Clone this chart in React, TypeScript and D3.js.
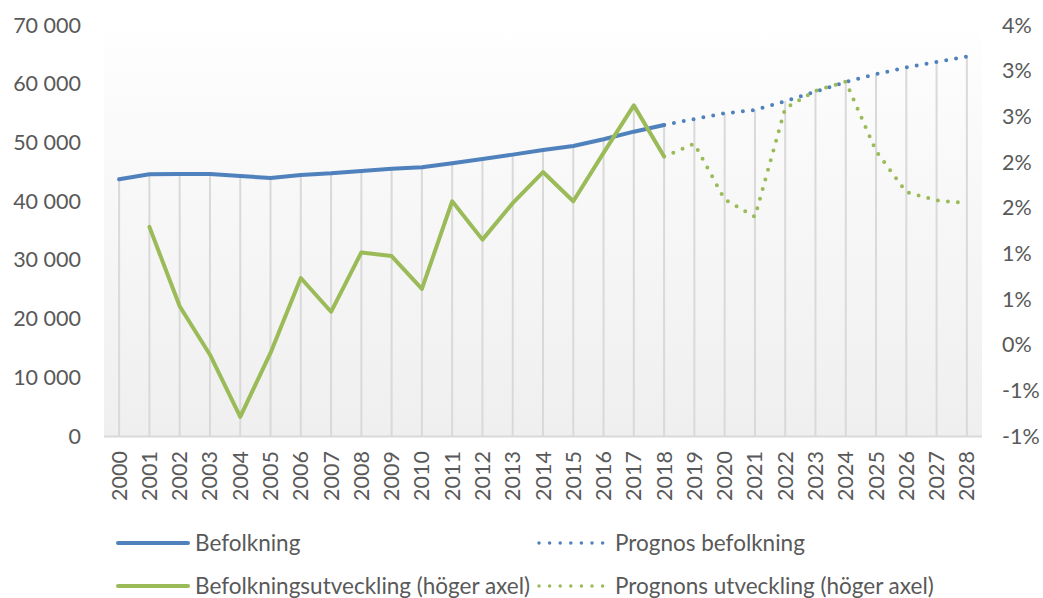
import React from 'react';
import * as d3 from 'd3';

const years = [2000, 2001, 2002, 2003, 2004, 2005, 2006, 2007, 2008, 2009, 2010, 2011, 2012, 2013, 2014, 2015, 2016, 2017, 2018, 2019, 2020, 2021, 2022, 2023, 2024, 2025, 2026, 2027, 2028];

// Befolkning 2000-2018 (left axis)
const befolkningYears = [2000, 2001, 2002, 2003, 2004, 2005, 2006, 2007, 2008, 2009, 2010, 2011, 2012, 2013, 2014, 2015, 2016, 2017, 2018];
const befolkning = [43720, 44570, 44630, 44630, 44290, 43940, 44460, 44740, 45140, 45530, 45760, 46450, 47180, 47920, 48710, 49400, 50540, 51830, 52970];

// Prognos befolkning 2018-2028 (left axis)
const prognosYears = [2018, 2019, 2020, 2021, 2022, 2023, 2024, 2025, 2026, 2027, 2028];
const prognosBefolkning = [52970, 53990, 54960, 55530, 57010, 58650, 60300, 61630, 62770, 63700, 64620];

// Befolkningsutveckling 2001-2018 (right axis, share)
const utvecklingYears = [2001, 2002, 2003, 2004, 2005, 2006, 2007, 2008, 2009, 2010, 2011, 2012, 2013, 2014, 2015, 2016, 2017, 2018];
const utveckling = [0.0129, 0.0042, -0.0011, -0.0079, -0.0009, 0.0073, 0.0036, 0.0101, 0.0097, 0.0061, 0.0157, 0.0115, 0.0155, 0.0189, 0.0157, 0.0210, 0.0262, 0.0206];

// Prognons utveckling 2018-2028 (right axis, share)
const prognosUtveckling = [0.0206, 0.0220, 0.0159, 0.0140, 0.0259, 0.0278, 0.0288, 0.0212, 0.0167, 0.0158, 0.0155];

const leftTicks = [0, 10000, 20000, 30000, 40000, 50000, 60000, 70000];
const rightTicks = [-0.01, -0.005, 0, 0.005, 0.01, 0.015, 0.02, 0.025, 0.03, 0.035];

const legendItems = [
  { label: 'Befolkning', color: '#4F81BD', dotted: false },
  { label: 'Prognos befolkning', color: '#4F81BD', dotted: true },
  { label: 'Befolkningsutveckling (höger axel)', color: '#9BBB59', dotted: false },
  { label: 'Prognons utveckling (höger axel)', color: '#9BBB59', dotted: true },
];

const BLUE = '#4F81BD';
const GREEN = '#9BBB59';
const TEXT = '#595959';
const FONT = 'Lato, "Open Sans", sans-serif';

export default function App() {
  const W = 1043;
  const H = 598;
  const left = 104;
  const right = 982;
  const top = 25;
  const bottom = 436;

  const x = d3.scalePoint<number>().domain(years).range([left, right]).padding(0.5);
  const yL = d3.scaleLinear().domain([0, 70000]).range([bottom, top]);
  const yR = d3.scaleLinear().domain([-0.01, 0.035]).range([bottom, top]);

  const locale = d3.formatLocale({ decimal: ',', thousands: ' ', grouping: [3], currency: ['', ''] });
  const fmtL = locale.format(',');
  const fmtR = (v: number) => {
    const n = Math.sign(v) * Math.round(Math.abs(v) * 100 + 1e-9);
    return `${n === 0 ? 0 : n}%`;
  };

  const lineL = d3.line<[number, number]>().x((d) => x(d[0]) as number).y((d) => yL(d[1]));
  const lineR = d3.line<[number, number]>().x((d) => x(d[0]) as number).y((d) => yR(d[1]));

  const befData = befolkningYears.map((yr, i) => [yr, befolkning[i]] as [number, number]);
  const progData = prognosYears.map((yr, i) => [yr, prognosBefolkning[i]] as [number, number]);
  const utvData = utvecklingYears.map((yr, i) => [yr, utveckling[i]] as [number, number]);
  const progUtvData = prognosYears.map((yr, i) => [yr, prognosUtveckling[i]] as [number, number]);

  // Drop lines: from the highest point at each category down to the axis
  const dropTops = years.map((yr) => {
    const ys: number[] = [];
    befData.forEach((d) => d[0] === yr && ys.push(yL(d[1])));
    progData.forEach((d) => d[0] === yr && ys.push(yL(d[1])));
    utvData.forEach((d) => d[0] === yr && ys.push(yR(d[1])));
    progUtvData.forEach((d) => d[0] === yr && ys.push(yR(d[1])));
    return { yr, y: ys.length ? Math.min(...ys) : bottom };
  });

  const legendPos = [
    { x: 117, y: 543 },
    { x: 537, y: 543 },
    { x: 117, y: 586 },
    { x: 537, y: 586 },
  ];

  return (
    <svg width={W} height={H} style={{ position: 'absolute', left: 0, top: 0, background: '#fff' }} fontFamily={FONT}>
      <defs>
        <linearGradient id="plotbg" x1="0" y1="0" x2="0" y2="1">
          <stop offset="0" stopColor="#ffffff" />
          <stop offset="0.12" stopColor="#fcfcfc" />
          <stop offset="1" stopColor="#efefef" />
        </linearGradient>
      </defs>
      <rect x={left} y={top} width={right - left} height={bottom - top} fill="url(#plotbg)" />

      {/* drop lines */}
      {dropTops.map((d) => (
        <line key={d.yr} x1={x(d.yr)} x2={x(d.yr)} y1={d.y} y2={bottom} stroke="#d9d9d9" strokeWidth={2} />
      ))}

      {/* x axis line */}
      <line x1={left} x2={right} y1={bottom + 0.5} y2={bottom + 0.5} stroke="#d9d9d9" strokeWidth={2} />

      {/* left ticks */}
      {leftTicks.map((t) => (
        <text key={t} x={81} y={yL(t) + 7.5} textAnchor="end" fontSize={21.5} fill={TEXT}>
          {fmtL(t)}
        </text>
      ))}

      {/* right ticks */}
      {rightTicks.map((t) => (
        <text key={t} x={1002} y={yR(t) + 7.5} textAnchor="start" fontSize={21.5} fill={TEXT}>
          {fmtR(t)}
        </text>
      ))}

      {/* x labels */}
      {years.map((yr) => (
        <text
          key={yr}
          transform={`translate(${(x(yr) as number) + 7.5},451) rotate(-90)`}
          textAnchor="end"
          fontSize={21.5}
          fill={TEXT}
        >
          {yr}
        </text>
      ))}

      {/* series */}
      <path d={lineL(befData) || ''} fill="none" stroke={BLUE} strokeWidth={4} strokeLinejoin="round" strokeLinecap="round" />
      <path d={lineL(progData) || ''} fill="none" stroke={BLUE} strokeWidth={4} strokeDasharray="0 10" strokeLinecap="round" />
      <path d={lineR(utvData) || ''} fill="none" stroke={GREEN} strokeWidth={4} strokeLinejoin="round" strokeLinecap="round" />
      <path d={lineR(progUtvData) || ''} fill="none" stroke={GREEN} strokeWidth={4} strokeDasharray="0 10" strokeLinecap="round" />

      {/* legend */}
      {legendItems.map((it, i) => {
        const p = legendPos[i];
        return (
          <g key={it.label}>
            {it.dotted ? (
              <line x1={p.x + 2} x2={p.x + 66} y1={p.y} y2={p.y} stroke={it.color} strokeWidth={3.5} strokeDasharray="0 10.6" strokeLinecap="round" />
            ) : (
              <line x1={p.x + 1} x2={p.x + 71} y1={p.y} y2={p.y} stroke={it.color} strokeWidth={4} strokeLinecap="round" />
            )}
            <text x={p.x + 78} y={p.y + 8} fontSize={22.5} fill={TEXT}>
              {it.label}
            </text>
          </g>
        );
      })}
    </svg>
  );
}
